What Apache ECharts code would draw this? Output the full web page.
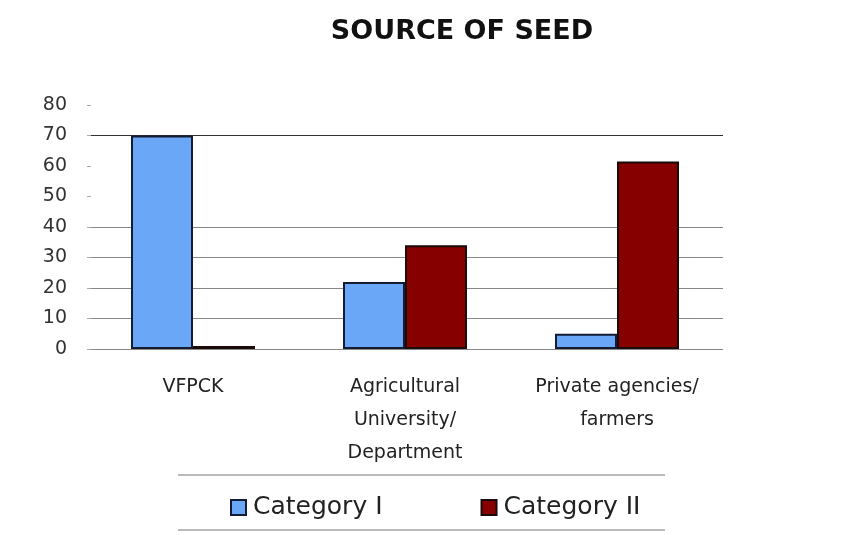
<!DOCTYPE html>
<html><head><meta charset="utf-8">
<script src="https://cdn.jsdelivr.net/npm/echarts@6/dist/echarts.min.js"></script>
<style>html,body{margin:0;padding:0;background:#fff}#c{width:861px;height:535px}</style>
</head><body><div id="c"></div>
<script>
const categories = ['VFPCK', 'Agricultural\nUniversity/\nDepartment', 'Private agencies/\nfarmers'];
const seriesNames = ['Category I', 'Category II'];
const categoryI = [70, 22, 5];
const categoryII = [1, 34, 61.5];
const yTicks = [0, 10, 20, 30, 40, 50, 60, 70, 80];

const chart = echarts.init(document.getElementById('c'));
chart.setOption({
  backgroundColor: '#fff',
  animation: false,
  title: {
    text: 'SOURCE OF SEED', left: 457, top: 13, textAlign: 'center',
    textStyle: {fontFamily: 'DejaVu Sans', fontWeight: 'bold', fontSize: 27, color: '#111'}
  },
  legend: {
    left: 225, top: 490, itemWidth: 15, itemHeight: 15, itemGap: 98,
    icon: 'rect',
    textStyle: {fontFamily: 'DejaVu Sans', fontSize: 25, color: '#222', padding: [0,0,0,2]},
    data: seriesNames
  },
  graphic: [
    {type: 'line', shape: {x1: 178, y1: 475, x2: 665, y2: 475}, style: {stroke: '#777', lineWidth: 1}},
    {type: 'line', shape: {x1: 178, y1: 530, x2: 665, y2: 530}, style: {stroke: '#777', lineWidth: 1}}
  ],
  grid: {left: 87, right: 138, top: 105, bottom: 186},
  xAxis: {
    type: 'category', data: categories,
    axisLine: {show: false}, axisTick: {show: false},
    axisLabel: {interval: 0, hideOverlap: false, fontFamily: 'DejaVu Sans', fontSize: 19, color: '#222', lineHeight: 33, margin: 22}
  },
  yAxis: {
    type: 'value', min: 0, max: 80, interval: 10,
    axisLine: {show: false},
    axisTick: {show: true, length: 4, inside: true, lineStyle: {color: '#aaa'}},
    axisLabel: {fontFamily: 'DejaVu Sans', fontSize: 19, color: '#333', margin: 20,
      formatter: v => yTicks.includes(v) ? String(v) : ''},
    splitLine: {show: true, lineStyle: {color: ['#888', '#888', '#888', '#888', '#888', 'rgba(0,0,0,0)', 'rgba(0,0,0,0)', '#333', 'rgba(0,0,0,0)'], width: 1}}
  },
  series: [
    {name: seriesNames[0], type: 'bar', data: categoryI, barWidth: 62, barGap: '0%',
     itemStyle: {color: '#6aa7f7', borderColor: '#141c33', borderWidth: 2}},
    {name: seriesNames[1], type: 'bar', data: categoryII, barWidth: 62, barGap: '0%',
     itemStyle: {color: '#870000', borderColor: '#1a0a0a', borderWidth: 2}}
  ]
});
</script></body></html>
